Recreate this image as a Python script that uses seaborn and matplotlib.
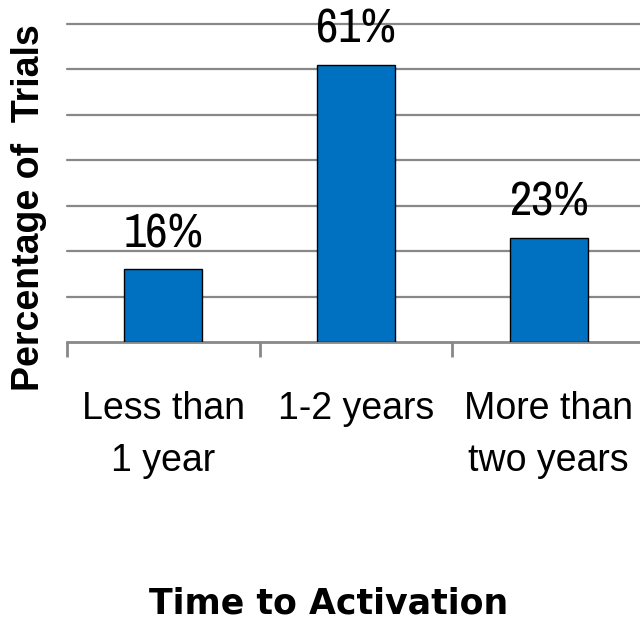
import matplotlib
matplotlib.use("Agg")
import matplotlib.pyplot as plt
import seaborn as sns
import pandas as pd

categories = ["Less than\n1 year", "1-2 years", "More than\ntwo years"]
percentages = [16, 61, 23]
value_labels = ["16%", "61%", "23%"]
y_label = "Percentage of  Trials"
x_label = "Time to Activation"

sns.set_style("white")
plt.rcParams["font.family"] = ["Liberation Sans", "DejaVu Sans"]
plt.rcParams["text.color"] = "black"

df = pd.DataFrame({"category": categories, "pct": percentages})

fig = plt.figure(figsize=(6.4, 6.28), dpi=100)
W, H = 640, 628
left, right, base, top = 67, 645, 342, 24
ax = fig.add_axes([left / W, 1 - base / H, (right - left) / W, (base - top) / H])

sns.barplot(data=df, x="category", y="pct", ax=ax, color="#0070C0",
            width=0.405, edgecolor="black", linewidth=1.0, saturation=1, zorder=3)

ax.set_ylim(0, 70)
ax.set_xlim(-0.5, 2.5)
ax.set_yticks(range(10, 71, 10))
ax.yaxis.grid(True, color="#888888", linewidth=1.6, zorder=0, clip_on=False)
ax.tick_params(axis="y", length=0, labelleft=False)
ax.set_axisbelow(True)

for side in ("left", "right", "top"):
    ax.spines[side].set_visible(False)
ax.spines["bottom"].set_color("#888888")
ax.spines["bottom"].set_linewidth(2)

# category separators below the baseline
ax.set_xticks([-0.5, 0.5, 1.5, 2.5], minor=True)
ax.tick_params(axis="x", which="minor", bottom=True, length=11, width=2,
               color="#888888", direction="out")
ax.tick_params(axis="x", which="major", bottom=True, length=0, pad=35, labelcolor="black")
for lbl in ax.get_xticklabels():
    lbl.set_fontsize(27)
    lbl.set_family(["Liberation Sans", "DejaVu Sans"])
    lbl.set_linespacing(1.6)
    lbl.set_va("top")

ax.set_xlabel("")
ax.set_ylabel("")

for i, (v, txt) in enumerate(zip(percentages, value_labels)):
    ax.annotate(txt, (i, v), xytext=(0, 16), textcoords="offset points",
                ha="center", va="baseline", fontsize=35,
                family=["Archivo Narrow", "Liberation Sans", "DejaVu Sans"],
                annotation_clip=False, zorder=5)

fig.text(29 / W, 1 - 208 / H, y_label, rotation=90, ha="center", va="center",
         fontsize=27, fontweight="bold", family=["Liberation Sans", "DejaVu Sans"])
fig.text(329 / W, 1 - 613 / H, x_label, ha="center", va="baseline",
         fontsize=25, fontweight="bold", family=["DejaVu Sans"])

fig.savefig("out.png", dpi=100)
